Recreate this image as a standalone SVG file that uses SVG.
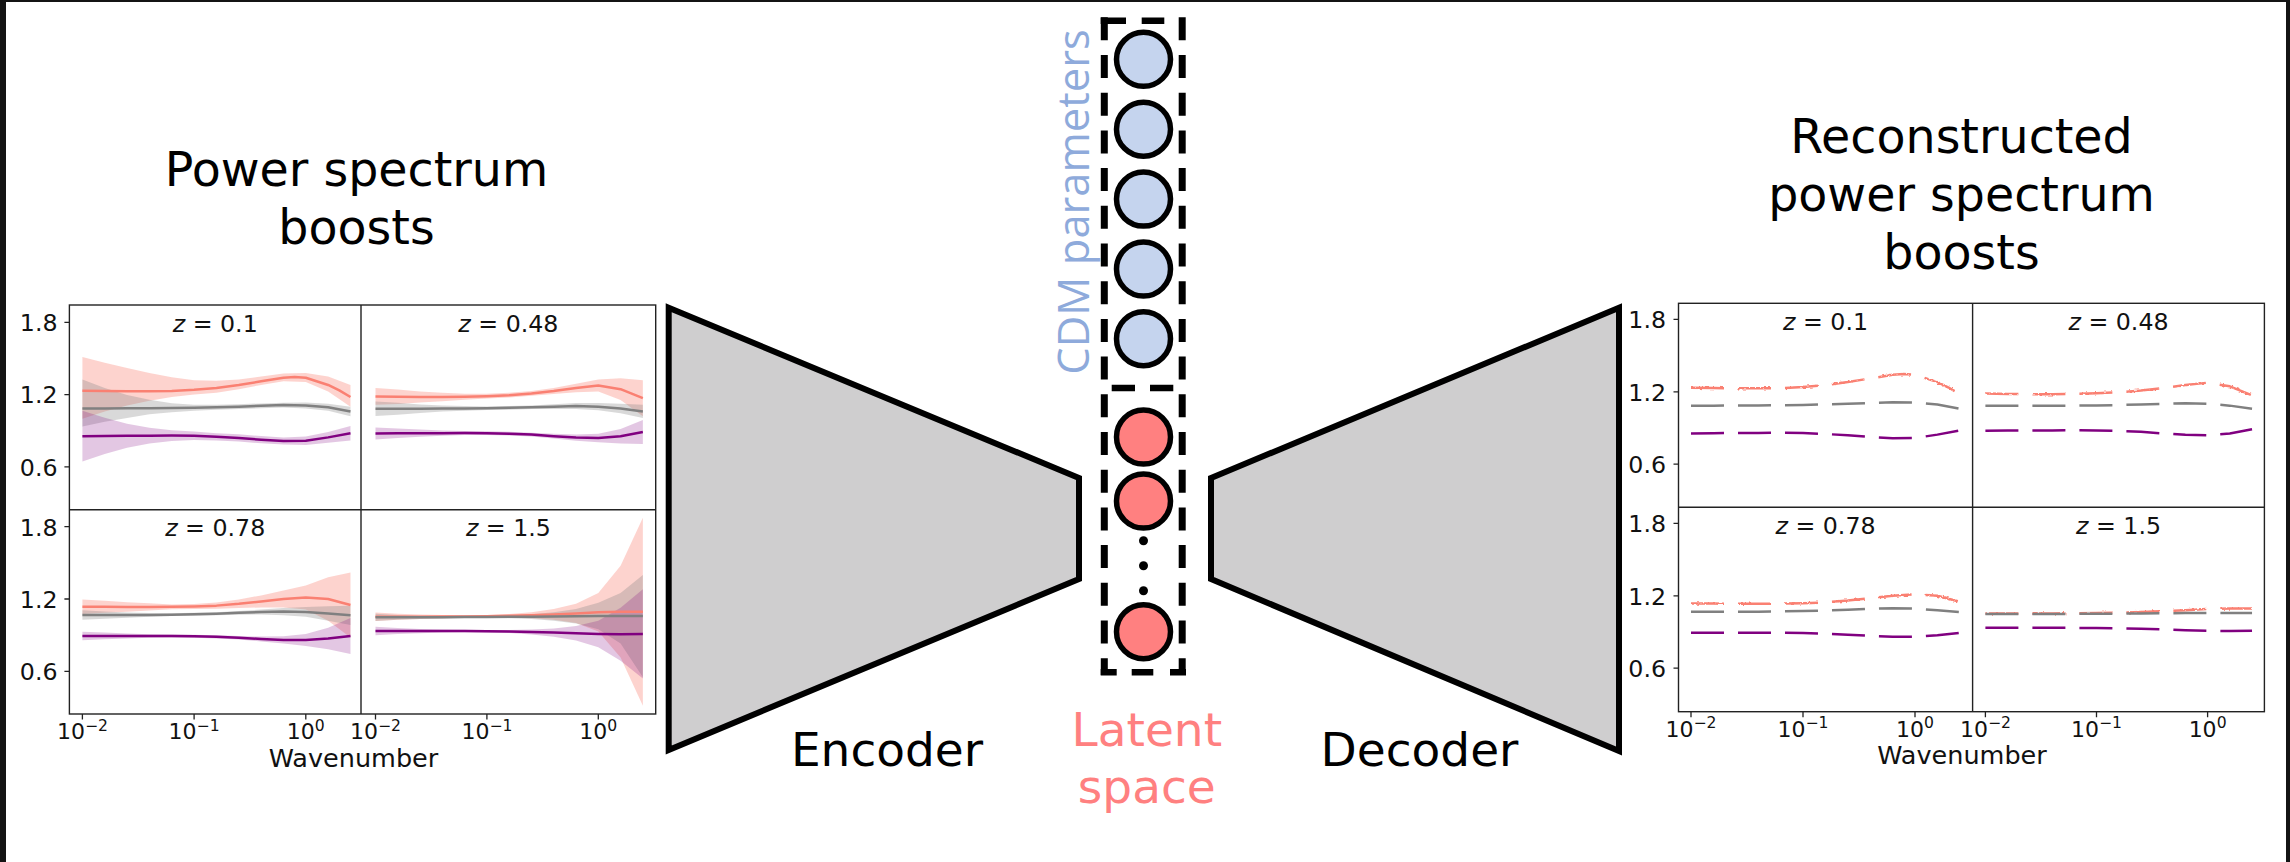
<svg xmlns="http://www.w3.org/2000/svg" width="2290" height="862" viewBox="0 0 2290 862">
<style>
text{font-family:"DejaVu Sans","Liberation Sans",sans-serif;fill:#000}
.ttl{font-size:47.5px;text-anchor:middle}
.lab{font-size:47px;text-anchor:middle}
.tl{font-size:23.7px;fill:#111}
.ya{text-anchor:end}
.xa{text-anchor:middle;font-size:22px}
.sup{font-size:15.6px}
.pt{font-size:23.7px;text-anchor:middle;fill:#111}
.wn{font-size:25.5px;text-anchor:middle;fill:#111}
.ax{fill:none;stroke:#222;stroke-width:1.4}
.tk{stroke:#222;stroke-width:1.3;fill:none}
.ln{fill:none;stroke-width:2.5;vector-effect:non-scaling-stroke;stroke-linejoin:round}
.r{stroke:#fa8072}.g{stroke:#808080}.p{stroke:#800080}
.dash{stroke-dasharray:33 14}
.br{fill:#fa8072;fill-opacity:.35}.bg{fill:#808080;fill-opacity:.3}.bp{fill:#800080;fill-opacity:.22}
.trap{fill:#cfcecf;stroke:#000;stroke-width:6;stroke-linejoin:miter}
.dv{stroke:#000;stroke-width:7;stroke-dasharray:23 14.7;fill:none}
.dh{stroke:#000;stroke-width:6.5;fill:none}
.cb{fill:#c5d4ee;stroke:#000;stroke-width:5.5}
.cr{fill:#ff8080;stroke:#000;stroke-width:5.5}
</style>
<defs>
<filter id="jit" x="-5%" y="-60%" width="110%" height="220%">
<feTurbulence type="fractalNoise" baseFrequency="0.35 0.5" numOctaves="1" seed="4"/>
<feDisplacementMap in="SourceGraphic" scale="3" xChannelSelector="R" yChannelSelector="G"/>
</filter>
<!-- panel A z=0.1 -->
<path id="Ar" class="ln" d="M0,1.232 0.2,1.23 0.4,1.228 0.6,1.228 0.8,1.23 1,1.24 1.2,1.255 1.4,1.28 1.6,1.31 1.8,1.34 1.9,1.347 2,1.34 2.2,1.28 2.3,1.235 2.4,1.18"/>
<path id="Ag" class="ln" d="M0,1.085 0.2,1.085 0.4,1.086 0.6,1.087 0.8,1.088 1,1.09 1.2,1.095 1.4,1.1 1.6,1.107 1.8,1.113 2,1.11 2.2,1.095 2.4,1.06"/>
<path id="Ap" class="ln" d="M0,0.855 0.2,0.857 0.4,0.858 0.6,0.859 0.8,0.86 1,0.858 1.2,0.85 1.4,0.84 1.6,0.826 1.8,0.815 2,0.817 2.2,0.845 2.4,0.88"/>
<path id="Abr" d="M0,1.512 0.2,1.465 0.4,1.42 0.6,1.38 0.8,1.345 1,1.32 1.2,1.315 1.4,1.325 1.6,1.35 1.8,1.375 2,1.38 2.2,1.35 2.4,1.28 2.4,1.1 2.2,1.225 2,1.305 1.8,1.31 1.6,1.28 1.4,1.245 1.2,1.215 1,1.2 0.8,1.18 0.6,1.15 0.4,1.11 0.2,1.06 0,1Z"/>
<path id="Abg" d="M0,1.325 0.2,1.255 0.4,1.196 0.6,1.157 0.8,1.128 1,1.115 1.2,1.115 1.4,1.12 1.6,1.127 1.8,1.133 2,1.135 2.2,1.125 2.4,1.1 2.4,1.02 2.2,1.065 2,1.085 1.8,1.093 1.6,1.087 1.4,1.08 1.2,1.075 1,1.065 0.8,1.053 0.6,1.037 0.4,1.006 0.2,0.975 0,0.935Z"/>
<path id="Abp" d="M0,1.065 0.2,1.007 0.4,0.958 0.6,0.924 0.8,0.905 1,0.893 1.2,0.88 1.4,0.87 1.6,0.856 1.8,0.845 2,0.852 2.2,0.89 2.4,0.94 2.4,0.82 2.2,0.8 2,0.782 1.8,0.785 1.6,0.796 1.4,0.81 1.2,0.82 1,0.823 0.8,0.815 0.6,0.794 0.4,0.758 0.2,0.707 0,0.645Z"/>
<!-- panel B z=0.48 -->
<path id="Br" class="ln" d="M0,1.185 0.2,1.182 0.4,1.18 0.6,1.18 0.8,1.182 1,1.187 1.2,1.195 1.4,1.21 1.6,1.23 1.8,1.255 2,1.275 2.2,1.245 2.4,1.17"/>
<path id="Bg" class="ln" d="M0,1.083 0.2,1.083 0.4,1.083 0.6,1.084 0.8,1.085 1,1.087 1.2,1.09 1.4,1.095 1.6,1.1 1.8,1.105 2,1.1 2.2,1.085 2.4,1.06"/>
<path id="Bp" class="ln" d="M0,0.878 0.2,0.879 0.4,0.88 0.6,0.88 0.8,0.881 1,0.88 1.2,0.876 1.4,0.868 1.6,0.855 1.8,0.843 2,0.84 2.2,0.855 2.4,0.89"/>
<path id="Bbr" d="M0,1.255 0.2,1.242 0.4,1.225 0.6,1.215 0.8,1.207 1,1.207 1.2,1.215 1.4,1.23 1.6,1.255 1.8,1.29 2,1.325 2.2,1.335 2.4,1.32 2.4,1.02 2.2,1.155 2,1.225 1.8,1.22 1.6,1.205 1.4,1.19 1.2,1.175 1,1.167 0.8,1.157 0.6,1.145 0.4,1.135 0.2,1.122 0,1.115Z"/>
<path id="Bbg" d="M0,1.143 0.2,1.133 0.4,1.118 0.6,1.109 0.8,1.105 1,1.102 1.2,1.105 1.4,1.11 1.6,1.12 1.8,1.13 2,1.13 2.2,1.125 2.4,1.115 2.4,1.005 2.2,1.045 2,1.07 1.8,1.08 1.6,1.08 1.4,1.08 1.2,1.075 1,1.072 0.8,1.065 0.6,1.059 0.4,1.048 0.2,1.033 0,1.023Z"/>
<path id="Bbp" d="M0,0.928 0.2,0.919 0.4,0.91 0.6,0.902 0.8,0.898 1,0.895 1.2,0.891 1.4,0.884 1.6,0.875 1.8,0.868 2,0.875 2.2,0.915 2.4,0.99 2.4,0.79 2.2,0.795 2,0.805 1.8,0.818 1.6,0.835 1.4,0.852 1.2,0.861 1,0.865 0.8,0.864 0.6,0.858 0.4,0.85 0.2,0.839 0,0.828Z"/>
<!-- panel C z=0.78 -->
<path id="Cr" class="ln" d="M0,1.136 0.2,1.135 0.4,1.134 0.6,1.134 0.8,1.135 1,1.138 1.2,1.145 1.4,1.16 1.6,1.18 1.8,1.2 2,1.213 2.2,1.2 2.4,1.15"/>
<path id="Cg" class="ln" d="M0,1.067 0.2,1.067 0.4,1.067 0.6,1.068 0.8,1.07 1,1.073 1.2,1.078 1.4,1.085 1.6,1.092 1.8,1.096 2,1.093 2.2,1.08 2.4,1.065"/>
<path id="Cp" class="ln" d="M0,0.893 0.2,0.893 0.4,0.893 0.6,0.893 0.8,0.893 1,0.891 1.2,0.886 1.4,0.878 1.6,0.868 1.8,0.86 2,0.86 2.2,0.872 2.4,0.893"/>
<path id="Cbr" d="M0,1.196 0.2,1.185 0.4,1.174 0.6,1.164 0.8,1.155 1,1.158 1.2,1.17 1.4,1.195 1.6,1.23 1.8,1.27 2,1.313 2.2,1.38 2.4,1.42 2.4,0.88 2.2,1.02 2,1.113 1.8,1.13 1.6,1.13 1.4,1.125 1.2,1.12 1,1.118 0.8,1.115 0.6,1.104 0.4,1.094 0.2,1.085 0,1.076Z"/>
<path id="Cbg" d="M0,1.107 0.2,1.097 0.4,1.089 0.6,1.084 0.8,1.082 1,1.085 1.2,1.09 1.4,1.1 1.6,1.112 1.8,1.126 2,1.133 2.2,1.14 2.4,1.145 2.4,0.985 2.2,1.02 2,1.053 1.8,1.066 1.6,1.072 1.4,1.07 1.2,1.066 1,1.061 0.8,1.058 0.6,1.052 0.4,1.045 0.2,1.037 0,1.027Z"/>
<path id="Cbp" d="M0,0.928 0.2,0.921 0.4,0.913 0.6,0.908 0.8,0.905 1,0.903 1.2,0.899 1.4,0.893 1.6,0.888 1.8,0.89 2,0.91 2.2,0.962 2.4,1.043 2.4,0.743 2.2,0.782 2,0.81 1.8,0.83 1.6,0.848 1.4,0.863 1.2,0.873 1,0.879 0.8,0.881 0.6,0.878 0.4,0.873 0.2,0.865 0,0.858Z"/>
<!-- panel D z=1.5 -->
<path id="Dr" class="ln" d="M0,1.053 0.2,1.053 0.4,1.053 0.6,1.054 0.8,1.055 1,1.057 1.2,1.06 1.4,1.065 1.6,1.072 1.8,1.08 2,1.09 2.2,1.095 2.4,1.095"/>
<path id="Dg" class="ln" d="M0,1.048 0.2,1.048 0.4,1.048 0.6,1.049 0.8,1.05 1,1.051 1.2,1.052 1.4,1.053 1.6,1.055 1.8,1.057 2,1.058 2.2,1.058 2.4,1.058"/>
<path id="Dp" class="ln" d="M0,0.934 0.2,0.934 0.4,0.934 0.6,0.934 0.8,0.934 1,0.933 1.2,0.93 1.4,0.926 1.6,0.921 1.8,0.915 2,0.91 2.2,0.908 2.4,0.91"/>
<path id="Dbr" d="M0,1.088 0.2,1.078 0.4,1.071 0.6,1.067 0.8,1.065 1,1.067 1.2,1.075 1.4,1.09 1.6,1.117 1.8,1.16 2,1.25 2.2,1.475 2.4,1.875 2.4,0.315 2.2,0.715 2,0.93 1.8,1 1.6,1.027 1.4,1.04 1.2,1.045 1,1.047 0.8,1.045 0.6,1.041 0.4,1.035 0.2,1.028 0,1.018Z"/>
<path id="Dbg" d="M0,1.078 0.2,1.068 0.4,1.062 0.6,1.059 0.8,1.058 1,1.059 1.2,1.064 1.4,1.073 1.6,1.09 1.8,1.117 2,1.168 2.2,1.25 2.4,1.4 2.4,0.55 2.2,0.83 2,0.948 1.8,0.997 1.6,1.02 1.4,1.033 1.2,1.04 1,1.043 0.8,1.042 0.6,1.039 0.4,1.034 0.2,1.028 0,1.018Z"/>
<path id="Dbp" d="M0,0.969 0.2,0.959 0.4,0.952 0.6,0.946 0.8,0.944 1,0.943 1.2,0.943 1.4,0.946 1.6,0.956 1.8,0.975 2,1.02 2.2,1.128 2.4,1.28 2.4,0.54 2.2,0.688 2,0.8 1.8,0.855 1.6,0.886 1.4,0.906 1.2,0.917 1,0.923 0.8,0.924 0.6,0.922 0.4,0.916 0.2,0.909 0,0.899Z"/>
</defs>

<rect x="0" y="0" width="2290" height="862" fill="#fff"/>
<g id="frame" fill="#141414">
<rect x="0" y="0" width="2290" height="2"/>
<rect x="0" y="0" width="6" height="862"/>
<rect x="2286" y="0" width="4" height="862"/>
</g>

<g id="input-title">
<text class="ttl" x="356.5" y="186">Power spectrum</text>
<text class="ttl" x="356.5" y="244">boosts</text>
</g>

<g id="input-plot">
<g transform="translate(82.4,539.2) scale(111.7,-120.5)">
<use href="#Abr" class="br"/><use href="#Abg" class="bg"/><use href="#Abp" class="bp"/>
<use href="#Ar" class="r"/><use href="#Ag" class="g"/><use href="#Ap" class="p"/>
</g>
<g transform="translate(375.5,539.2) scale(111.4,-120.5)">
<use href="#Bbr" class="br"/><use href="#Bbg" class="bg"/><use href="#Bbp" class="bp"/>
<use href="#Br" class="r"/><use href="#Bg" class="g"/><use href="#Bp" class="p"/>
</g>
<g transform="translate(82.4,743.6) scale(111.7,-120.5)">
<use href="#Cbr" class="br"/><use href="#Cbg" class="bg"/><use href="#Cbp" class="bp"/>
<use href="#Cr" class="r"/><use href="#Cg" class="g"/><use href="#Cp" class="p"/>
</g>
<g transform="translate(375.5,743.6) scale(111.4,-120.5)">
<use href="#Dbr" class="br"/><use href="#Dbg" class="bg"/><use href="#Dbp" class="bp"/>
<use href="#Dr" class="r"/><use href="#Dg" class="g"/><use href="#Dp" class="p"/>
</g>
<rect class="ax" x="69.4" y="305" width="586.3" height="409"/>
<path class="ax" d="M361,305V714M69.4,509.7H655.7"/>
<path class="tk" d="M64.4,322.3H69.4M64.4,394.6H69.4M64.4,466.9H69.4M64.4,526.7H69.4M64.4,599H69.4M64.4,671.3H69.4M82.4,714V719.5M194.1,714V719.5M305.8,714V719.5M375.5,714V719.5M486.9,714V719.5M598.3,714V719.5"/>
<text class="tl ya" x="57.5" y="331.1">1.8</text>
<text class="tl ya" x="57.5" y="403.4">1.2</text>
<text class="tl ya" x="57.5" y="475.7">0.6</text>
<text class="tl ya" x="57.5" y="535.5">1.8</text>
<text class="tl ya" x="57.5" y="607.8">1.2</text>
<text class="tl ya" x="57.5" y="680.1">0.6</text>
<text class="tl xa" x="82.4" y="739.3">10<tspan class="sup" dy="-8.6">−2</tspan></text>
<text class="tl xa" x="194.1" y="739.3">10<tspan class="sup" dy="-8.6">−1</tspan></text>
<text class="tl xa" x="305.8" y="739.3">10<tspan class="sup" dy="-8.6">0</tspan></text>
<text class="tl xa" x="375.5" y="739.3">10<tspan class="sup" dy="-8.6">−2</tspan></text>
<text class="tl xa" x="486.9" y="739.3">10<tspan class="sup" dy="-8.6">−1</tspan></text>
<text class="tl xa" x="598.3" y="739.3">10<tspan class="sup" dy="-8.6">0</tspan></text>
<text class="pt" x="215.2" y="331.7"><tspan font-style="italic">z</tspan> = 0.1</text>
<text class="pt" x="508.4" y="331.7"><tspan font-style="italic">z</tspan> = 0.48</text>
<text class="pt" x="215.2" y="536.4"><tspan font-style="italic">z</tspan> = 0.78</text>
<text class="pt" x="508.4" y="536.4"><tspan font-style="italic">z</tspan> = 1.5</text>
<text class="wn" x="353.5" y="767">Wavenumber</text>
</g>

<g id="encoder">
<polygon class="trap" points="668.7,307.8 1079,478 1079,579 668.7,750"/>
<text class="lab" x="887" y="766">Encoder</text>
</g>

<g id="latent-space">
<text x="0" y="0" transform="translate(1089,202) rotate(-90)" text-anchor="middle" style="font-family:'Open Sans','DejaVu Sans',sans-serif;font-size:43.5px;fill:#8eaadb">CDM parameters</text>
<path class="dv" d="M1104.3,17.3V675M1182.2,17.3V675"/>
<path class="dh" d="M1100.7,20.7H1126M1141.7,20.7H1164.3M1111.7,388H1135M1150,388H1173.3M1100.7,672.3H1116.7M1131.7,672.3H1153.3M1170,672.3H1186"/>
<circle class="cb" cx="1143.5" cy="59.3" r="27"/>
<circle class="cb" cx="1143.5" cy="129.2" r="27"/>
<circle class="cb" cx="1143.5" cy="199.1" r="27"/>
<circle class="cb" cx="1143.5" cy="269" r="27"/>
<circle class="cb" cx="1143.5" cy="338.7" r="27"/>
<circle class="cr" cx="1143.5" cy="437" r="27"/>
<circle class="cr" cx="1143.5" cy="501" r="27"/>
<circle class="cr" cx="1143.5" cy="631.7" r="27"/>
<circle cx="1143.5" cy="540.7" r="4.5"/>
<circle cx="1143.5" cy="565.7" r="4.5"/>
<circle cx="1143.5" cy="590.7" r="4.5"/>
<text class="lab" x="1146.8" y="746" style="fill:#ff8080">Latent</text>
<text class="lab" x="1146.8" y="803" style="fill:#ff8080">space</text>
</g>

<g id="decoder">
<polygon class="trap" points="1211,478 1619,307.8 1619,751 1211,579"/>
<text class="lab" x="1419.5" y="766">Decoder</text>
</g>

<g id="output-title">
<text class="ttl" x="1961.5" y="153.3">Reconstructed</text>
<text class="ttl" x="1961.5" y="211">power spectrum</text>
<text class="ttl" x="1961.5" y="269.3">boosts</text>
</g>

<g id="output-plot">
<g filter="url(#jit)"><use href="#Ar" class="r dash" transform="translate(1691,536.7) scale(112,-120.8)"/></g>
<use href="#Ag" class="g dash" transform="translate(1691,536.7) scale(112,-120.8)"/>
<use href="#Ap" class="p dash" transform="translate(1691,536.7) scale(112,-120.8)"/>
<g filter="url(#jit)"><use href="#Br" class="r dash" transform="translate(1985.4,536.7) scale(111.1,-120.8)"/></g>
<use href="#Bg" class="g dash" transform="translate(1985.4,536.7) scale(111.1,-120.8)"/>
<use href="#Bp" class="p dash" transform="translate(1985.4,536.7) scale(111.1,-120.8)"/>
<g filter="url(#jit)"><use href="#Cr" class="r dash" transform="translate(1691,740.7) scale(112,-120.8)"/></g>
<use href="#Cg" class="g dash" transform="translate(1691,740.7) scale(112,-120.8)"/>
<use href="#Cp" class="p dash" transform="translate(1691,740.7) scale(112,-120.8)"/>
<g filter="url(#jit)"><use href="#Dr" class="r dash" transform="translate(1985.4,740.7) scale(111.1,-120.8)"/></g>
<use href="#Dg" class="g dash" transform="translate(1985.4,740.7) scale(111.1,-120.8)"/>
<use href="#Dp" class="p dash" transform="translate(1985.4,740.7) scale(111.1,-120.8)"/>
<rect class="ax" x="1678.5" y="303.3" width="585.9" height="408.4"/>
<path class="ax" d="M1972.6,303.3V711.7M1678.5,507.3H2264.4"/>
<path class="tk" d="M1673.5,319.3H1678.5M1673.5,391.8H1678.5M1673.5,464.2H1678.5M1673.5,523.3H1678.5M1673.5,595.8H1678.5M1673.5,668.2H1678.5M1691,711.7V717.2M1803,711.7V717.2M1915,711.7V717.2M1985.4,711.7V717.2M2096.5,711.7V717.2M2207.6,711.7V717.2"/>
<text class="tl ya" x="1666" y="328.1">1.8</text>
<text class="tl ya" x="1666" y="400.6">1.2</text>
<text class="tl ya" x="1666" y="473">0.6</text>
<text class="tl ya" x="1666" y="532.1">1.8</text>
<text class="tl ya" x="1666" y="604.6">1.2</text>
<text class="tl ya" x="1666" y="677">0.6</text>
<text class="tl xa" x="1691" y="736.7">10<tspan class="sup" dy="-8.6">−2</tspan></text>
<text class="tl xa" x="1803" y="736.7">10<tspan class="sup" dy="-8.6">−1</tspan></text>
<text class="tl xa" x="1915" y="736.7">10<tspan class="sup" dy="-8.6">0</tspan></text>
<text class="tl xa" x="1985.4" y="736.7">10<tspan class="sup" dy="-8.6">−2</tspan></text>
<text class="tl xa" x="2096.5" y="736.7">10<tspan class="sup" dy="-8.6">−1</tspan></text>
<text class="tl xa" x="2207.6" y="736.7">10<tspan class="sup" dy="-8.6">0</tspan></text>
<text class="pt" x="1825.5" y="330"><tspan font-style="italic">z</tspan> = 0.1</text>
<text class="pt" x="2118.5" y="330"><tspan font-style="italic">z</tspan> = 0.48</text>
<text class="pt" x="1825.5" y="534"><tspan font-style="italic">z</tspan> = 0.78</text>
<text class="pt" x="2118.5" y="534"><tspan font-style="italic">z</tspan> = 1.5</text>
<text class="wn" x="1962" y="764">Wavenumber</text>
</g>

<g id="connectors"/>
</svg>
